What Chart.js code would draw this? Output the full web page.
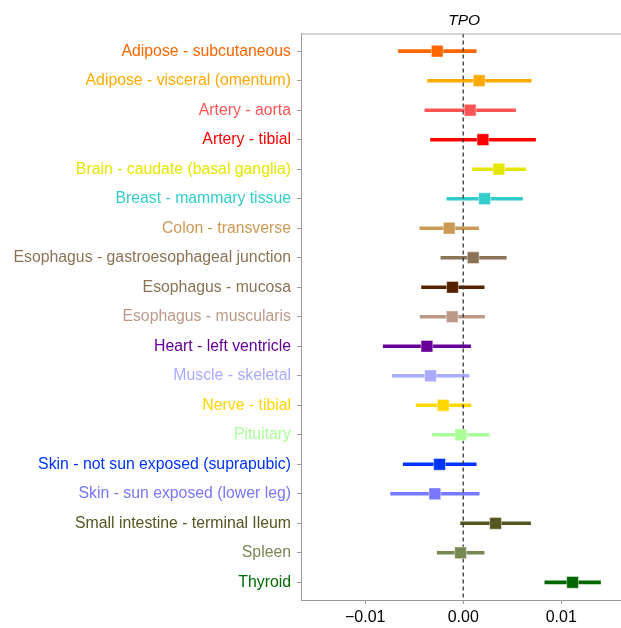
<!DOCTYPE html>
<html>
<head>
<meta charset="utf-8">
<script src="https://cdn.jsdelivr.net/npm/chart.js@4/dist/chart.umd.min.js"></script>
<style>
  html, body { margin: 0; padding: 0; background: #fff; overflow: hidden; }
</style>
</head>
<body>
<canvas id="c" width="621" height="628"></canvas>
<script>
// Tissues (top to bottom)
const tissues = [
  'Adipose - subcutaneous',
  'Adipose - visceral (omentum)',
  'Artery - aorta',
  'Artery - tibial',
  'Brain - caudate (basal ganglia)',
  'Breast - mammary tissue',
  'Colon - transverse',
  'Esophagus - gastroesophageal junction',
  'Esophagus - mucosa',
  'Esophagus - muscularis',
  'Heart - left ventricle',
  'Muscle - skeletal',
  'Nerve - tibial',
  'Pituitary',
  'Skin - not sun exposed (suprapubic)',
  'Skin - sun exposed (lower leg)',
  'Small intestine - terminal Ileum',
  'Spleen',
  'Thyroid'
];

// Effect estimates and 95% interval bounds for TPO
const estimate = [-0.00265, 0.00163, 0.00071, 0.00201, 0.00364, 0.00218, -0.00143, 0.00102, -0.00109, -0.00112,
                  -0.00370, -0.00333, -0.00204, -0.00024, -0.00241, -0.00289, 0.00330, -0.00027, 0.01116];
const lower    = [-0.00660, -0.00364, -0.00391, -0.00333, 0.00095, -0.00167, -0.00442, -0.00228, -0.00425, -0.00439,
                  -0.00816, -0.00724, -0.00480, -0.00313, -0.00612, -0.00741, -0.00027, -0.00265, 0.00833];
const upper    = [0.00133, 0.00694, 0.00534, 0.00738, 0.00640, 0.00605, 0.00156, 0.00439, 0.00214, 0.00218,
                  0.00075, 0.00058, 0.00078, 0.00265, 0.00133, 0.00163, 0.00687, 0.00214, 0.01401];

// Tissue colours (marks) and label colours
const markColors = ['#FF6600', '#FFAA00', '#FF5555', '#FF0000', '#E6E600', '#33CCCC', '#CC9955', '#8B7355', '#552200', '#BB9988',
                    '#660099', '#AAAAFF', '#FFD700', '#AAFF99', '#0033FF', '#7777FF', '#555522', '#778855', '#006600'];
const labelColors = ['#FF6600', '#FFAA00', '#FF5555', '#FF0000', '#E6E600', '#33CCCC', '#CC9955', '#8B7355', '#8B7355', '#BB9988',
                     '#660099', '#AAAAFF', '#FFD700', '#AAFF99', '#0033FF', '#7777FF', '#555522', '#778855', '#006600'];

// X axis ticks
const xTickValues = [-0.01, 0, 0.01];
const xTickLabels = ['\u22120.01', '0.00', '0.01'];

const geneName = 'TPO';

const axisGray = '#9a9a9a';

// Draws the top edge of the panel frame
const panelFrame = {
  id: 'panelFrame',
  afterDraw(chart) {
    const a = chart.chartArea, ctx = chart.ctx;
    ctx.save();
    ctx.strokeStyle = '#aaaaaa';
    ctx.lineWidth = 1;
    ctx.beginPath();
    ctx.moveTo(a.left, a.top + 0.5);
    ctx.lineTo(chart.width, a.top + 0.5);
    ctx.stroke();
    ctx.restore();
  }
};

// Centres the title over the panel, which continues past the right edge
const titleOverPanel = {
  id: 'titleOverPanel',
  afterDraw(chart) {
    const ctx = chart.ctx;
    const x = chart.scales.x.getPixelForValue(0.0001);
    ctx.save();
    ctx.fillStyle = '#000';
    ctx.font = 'italic 15.5px "Liberation Sans", Arial, sans-serif';
    ctx.textAlign = 'center';
    ctx.textBaseline = 'middle';
    ctx.fillText(geneName, x, 20.5);
    ctx.restore();
  }
};

const ciData = tissues.map((t, i) => ({ y: i, x: [lower[i], upper[i]] }));
const estData = tissues.map((t, i) => ({ y: i, x: estimate[i] }));

new Chart(document.getElementById('c'), {
  type: 'bar',
  data: {
    datasets: [
      {
        type: 'scatter',
        label: 'estimate',
        data: estData,
        pointStyle: 'rect',
        pointRadius: 8.3,
        pointHoverRadius: 8.3,
        pointBackgroundColor: markColors,
        pointBorderColor: 'rgba(255,255,255,0.55)',
        pointBorderWidth: 0.8,
        order: 0
      },
      {
        type: 'line',
        label: 'zero',
        data: [{ x: 0, y: -0.6 }, { x: 0, y: tissues.length - 0.4 }],
        borderColor: '#333333',
        borderWidth: 1.3,
        borderDash: [4, 3],
        pointRadius: 0,
        order: 1
      },
      {
        type: 'bar',
        label: 'interval',
        data: ciData,
        backgroundColor: markColors,
        borderWidth: 0,
        barThickness: 3,
        order: 2
      }
    ]
  },
  options: {
    indexAxis: 'y',
    responsive: false,
    animation: false,
    devicePixelRatio: 1,
    layout: { autoPadding: false, padding: { left: 0, right: 0, top: 33.5, bottom: 0 } },
    plugins: {
      legend: { display: false },
      tooltip: { enabled: false },
      title: { display: false }
    },
    scales: {
      x: {
        type: 'linear',
        min: -0.01655,
        max: 0.0161,
        offset: false,
        afterBuildTicks: s => { s.ticks = xTickValues.map(v => ({ value: v })); },
        afterFit: s => { s.height = 28; s.paddingLeft = 0; s.paddingRight = 0; },
        ticks: {
          callback: (v) => xTickLabels[xTickValues.indexOf(v)],
          color: '#000',
          padding: 4,
          maxRotation: 0,
          font: { family: '"Liberation Sans", Arial, sans-serif', size: 16 }
        },
        grid: { offset: false, drawOnChartArea: false, drawTicks: true, tickLength: 4, color: axisGray },
        border: { display: true, color: axisGray, width: 1 }
      },
      y: {
        type: 'linear',
        reverse: true,
        offset: false,
        min: -0.6,
        max: tissues.length - 0.4,
        afterBuildTicks: s => { s.ticks = tissues.map((t, i) => ({ value: i })); },
        afterFit: s => { s.width = 301; s.paddingTop = 0; s.paddingBottom = 0; },
        ticks: {
          autoSkip: false,
          callback: (v) => tissues[v],
          color: ctx => labelColors[ctx.tick.value],
          padding: 6,
          font: { family: '"Liberation Sans", Arial, sans-serif', size: 15.8 }
        },
        grid: { offset: false, drawOnChartArea: false, drawTicks: true, tickLength: 4, color: axisGray },
        border: { display: true, color: axisGray, width: 1 }
      }
    }
  },
  plugins: [panelFrame, titleOverPanel]
});
</script>
</body>
</html>
